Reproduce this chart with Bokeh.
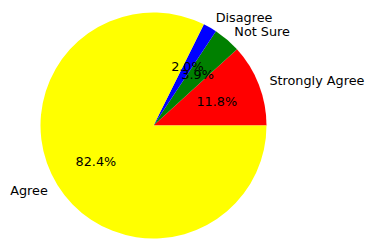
import math
from bokeh.plotting import figure
from bokeh.models import Range1d, ColumnDataSource
from bokeh.core.properties import value
from bokeh.embed import file_html
from bokeh.resources import INLINE

labels = ["Strongly Agree", "Not Sure", "Disagree", "Agree"]
counts = [6, 2, 1, 42]
colors = ["red", "green", "blue", "yellow"]

R = 113.0
CX, CY = 153, 125
W, H = 366, 240

p = figure(width=W, height=H, output_backend="svg", toolbar_location=None,
           x_range=Range1d(-CX, W - CX), y_range=Range1d(CY - H, CY),
           min_border=0)
p.axis.visible = False
p.grid.visible = False
p.outline_line_color = None
p.background_fill_color = "white"
p.border_fill_color = "white"

total = sum(counts)
starts, ends, mids, pcts = [], [], [], []
acc = 0.0
for c in counts:
    a0 = acc / total * 2 * math.pi
    acc += c
    a1 = acc / total * 2 * math.pi
    starts.append(a0); ends.append(a1); mids.append((a0 + a1) / 2)
    pcts.append("%.1f%%" % (100.0 * c / total))

src = ColumnDataSource(dict(start=starts, end=ends, color=colors))
p.wedge(x=0, y=0, radius=R, start_angle="start", end_angle="end",
        fill_color="color", line_color=None, source=src)

lx = [1.1 * R * math.cos(m) for m in mids]
ly = [1.1 * R * math.sin(m) for m in mids]
align = ["left" if x > 0 else "right" for x in lx]
px = [0.6 * R * math.cos(m) for m in mids]
py = [0.6 * R * math.sin(m) for m in mids]

lsrc = ColumnDataSource(dict(x=lx, y=ly, t=labels, a=align))
p.text(x="x", y="y", text="t", text_align="a", text_baseline="middle",
       text_font=value("DejaVu Sans"), text_font_size="12.8px", text_color="black", source=lsrc)
psrc = ColumnDataSource(dict(x=px, y=py, t=pcts))
p.text(x="x", y="y", text="t", text_align="center", text_baseline="middle",
       text_font=value("DejaVu Sans"), text_font_size="12.8px", text_color="black", source=psrc)

open("out.html", "w").write(file_html(p, INLINE))
